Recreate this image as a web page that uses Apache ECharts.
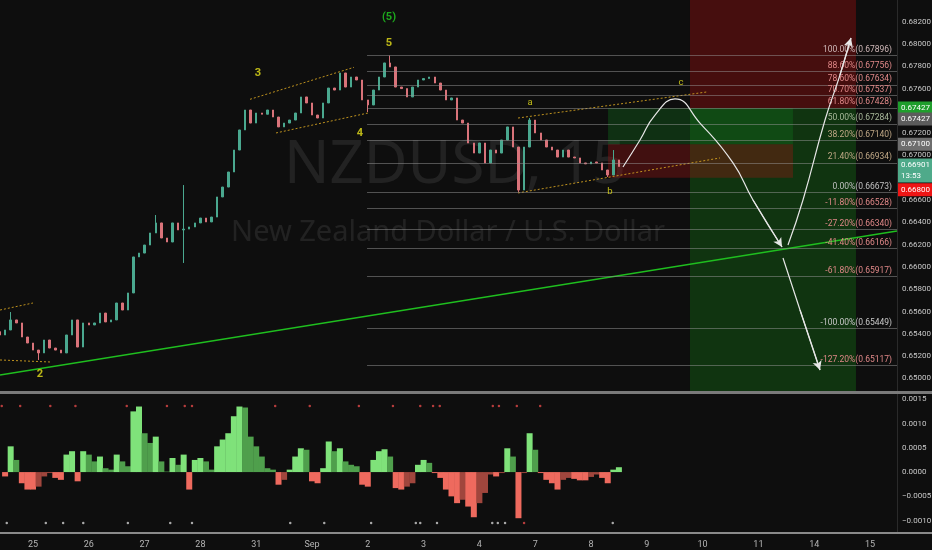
<!DOCTYPE html>
<html><head><meta charset="utf-8">
<script src="https://cdn.jsdelivr.net/npm/echarts@6/dist/echarts.min.js"></script>
<style>html,body{margin:0;padding:0;background:#0e0e0e;}#c{width:932px;height:550px;}</style>
</head><body><div id="c"></div>
<script>
// ---------- data ----------
const dayLabels = ['25','26','27','28','31','Sep','2','3','4','7','8','9','10','11','14','15'];
const dayTicks = [0,1,2,3,4,5,6,7,8,9,10,11,12,13,14,15];
const priceTicks = [0.682,0.680,0.678,0.676,0.672,0.670,0.666,0.664,0.662,0.660,0.658,0.656,0.654,0.652,0.650];
const oscTicks = [0.0015,0.001,0.0005,0,-0.0005,-0.001];

const barStart = -0.6, barStep = 0.1;
const firstOpen = 0.65420;
const closes = [
0.65390,0.65435,0.65525,0.65498,0.65372,0.65318,0.65255,0.65229,0.65345,0.65273,
0.65255,0.65229,0.65390,0.65525,0.65282,0.65498,0.65480,0.65498,0.65587,0.65507,
0.65525,0.65677,0.65614,0.65767,0.66090,0.66125,0.66197,0.66305,0.66395,0.66260,
0.66224,0.66395,0.66332,0.66340,0.66359,0.66395,0.66439,0.66404,0.66448,0.66628,
0.66717,0.66852,0.67049,0.67229,0.67408,0.67291,0.67381,0.67370,0.67408,0.67345,
0.67256,0.67291,0.67318,0.67381,0.67525,0.67471,0.67363,0.67336,0.67471,0.67605,
0.67587,0.67740,0.67614,0.67704,0.67677,0.67498,0.67453,0.67587,0.67704,0.67830,
0.67794,0.67614,0.67600,0.67525,0.67614,0.67677,0.67690,0.67704,0.67650,0.67587,
0.67498,0.67516,0.67318,0.67291,0.67112,0.67022,0.67112,0.66933,0.67049,0.67022,
0.67139,0.67256,0.67076,0.66690,0.67076,0.67318,0.67202,0.67139,0.67076,0.67049,
0.66986,0.67049,0.66986,0.66978,0.66933,0.66925,0.66942,0.66933,0.66870,0.66825,
0.66960,0.66901];
// [bar index, high, low] for visible wicks
const extremes = [[2,0.65596,null],[7,null,0.65166],[28,0.66466,null],[33,0.66735,0.66036],[66,null,0.67390],[70,0.67896,null],[93,null,0.66673],[95,0.67336,null],[109,null,0.66807],[110,0.67049,null]];

const osc = [
0,-0.00009,0.00053,0.00025,-0.00023,-0.00036,-0.00036,-0.0003,-0.00009,-0.00002,
-0.00012,-0.00016,0.00036,0.00043,-0.00019,0.00043,0.00036,0.00022,0.00032,0.00008,
0.00005,0.00036,0.00022,0.00012,0.00125,0.00135,0.0008,0.0006,0.00073,0.00022,
0.00001,0.00029,0.00015,0.00036,-0.00036,0.00025,0.00029,0.00022,0.00005,0.00053,
0.00067,0.0008,0.00115,0.00135,0.00133,0.00073,0.00053,0.00032,0.00008,0.00005,
-0.00026,-0.00016,0.00005,0.00032,0.00049,0.00046,-0.00019,-0.00023,0.00008,0.00063,
0.00043,0.00049,0.00022,0.00015,0.00012,-0.00026,-0.0003,0.00025,0.00043,0.00047,
0.00032,-0.00033,-0.00036,-0.0003,-0.00023,0.00015,0.00025,0.00019,-0.00002,-0.00012,
-0.00036,-0.0005,-0.00064,-0.00057,-0.00071,-0.00093,-0.00064,-0.00043,-0.00005,-0.00009,
-0.00002,0.00049,0.00032,-0.00095,-0.00002,0.0008,0.00046,-0.00002,-0.00016,-0.00023,
-0.00036,-0.00016,-0.00012,-0.00014,-0.00017,-0.00017,-0.0001,-0.00005,-0.00012,-0.00023,
0.00005,0.0001];
const dotTopX = [-0.56,-0.23,0.31,0.76,1.68,2.40,2.72,2.85,4.34,4.96,5.84,6.45,6.94,7.17,7.29,8.24,8.35,8.67,9.09];
const dotBottomX = [-0.47,0.23,0.54,0.90,1.70,2.46,2.85,4.61,5.22,6.06,6.86,6.94,7.24,8.23,8.33,8.46,10.39];
const dotBottomRedX = [8.80];
const dotTopLevel = 0.00136, dotBottomLevel = -0.00105;

const fibPct = [100,88.6,78.6,70.7,61.8,50,38.2,21.4,0,-11.8,-27.2,-41.4,-61.8,-100,-127.2];
const fibPrice = [0.67896,0.67756,0.67634,0.67537,0.67428,0.67284,0.67140,0.66934,0.66673,0.66528,0.66340,0.66166,0.65917,0.65449,0.65117];
const fibFrom = 5.986, fibTo = 15.484;

const trendLine = [[-0.591,0.65031],[15.484,0.66323]];
const channelSegs = [
 [[-0.591,0.65614],[0.0,0.65677]],
 [[-0.591,0.65166],[0.305,0.65148]],
 [[3.889,0.67504],[5.753,0.67791]],
 [[4.355,0.67202],[6.004,0.67381]],
 [[8.692,0.67336],[12.079,0.67570]],
 [[8.692,0.66664],[12.312,0.66978]]];
const curve1 = [[10.573,0.66897],[10.878,0.67139],[11.147,0.67363],[11.505,0.67507],[11.953,0.67291],[12.545,0.66933],[12.903,0.66601],[13.423,0.66179]];
const curve2 = [[13.530,0.66197],[13.799,0.66601],[14.194,0.67318],[14.462,0.67722],[14.659,0.68054]];
const curve3 = [[13.441,0.66081],[13.746,0.65614],[14.104,0.65076]];

const waveText = ['(5)','5','3','4','2','a','c','b'];
const waveX = [6.380,6.380,4.032,5.860,0.125,8.907,11.613,10.341];
const waveP = [0.68242,0.68009,0.67740,0.67202,0.65040,0.67471,0.67650,0.66673];

// position tools: [from, to, low, high]
const shortStop = [11.774,14.749,0.67427,0.68395];
const shortTarget = [11.774,14.749,0.64888,0.67427];
const longTarget = [10.305,13.620,0.67100,0.67427];
const longStop = [10.305,13.620,0.66800,0.67100];

const tagValues = [0.67427,0.67427,0.67100,0.66901,0.66800];
const countdown = '13:53';

// ---------- styles ----------
const FONT = 'Roboto';
const fibColors = ['#d0b8b8','#e08888','#e08888','#e08888','#e08888','#a8b89a','#c0a886','#c0a886','#c0c0c0','#e08888','#e08888','#e08888','#e08888','#c8c8c8','#e08888'];
const waveColors = ['#22d022','#e8e21a','#e8e21a','#e8e21a','#e8e21a','#e8e21a','#e8e21a','#e8e21a'];
const waveSizes = [11,11,11,11,11,9.5,9.5,9.5];
const tagStyles = [
 {bg:'#1f9e2c',c:'#fff',off:[0,0]},
 {bg:'#5c5c5c',c:'#fff',off:[0,11]},
 {bg:'#6e6e6e',c:'#fff',off:[0,0]},
 {bg:'#4faa8a',c:'#fff',off:[0,4]},
 {bg:'#ee1515',c:'#fff',off:[0,12]}];

// ---------- build ----------
const X0 = -0.5914, X1 = 15.484;
const Y0 = 0.648877, Y1 = 0.683946;
const O0 = -0.001234, O1 = 0.001608;

const candles = closes.map((c,k)=>{
  const o = k ? closes[k-1] : firstOpen;
  let hi = Math.max(o,c), lo = Math.min(o,c);
  extremes.forEach(e=>{ if(e[0]===k){ if(e[1]!=null) hi=Math.max(hi,e[1]); if(e[2]!=null) lo=Math.min(lo,e[2]); } });
  return [barStart+k*barStep, o, c, lo, hi];
});
const oscData = osc.map((v,k)=>{
  const prev = k ? osc[k-1] : 0;
  let col;
  if (v >= 0) col = v >= prev ? '#7fe27a' : '#4f9f4c';
  else col = v <= prev ? '#ee6a5e' : '#a0463d';
  return {value:[barStart+k*barStep, v], itemStyle:{color:col}};
});
const area = (a,col)=>[{xAxis:a[0], yAxis:a[2], itemStyle:{color:col}},{xAxis:a[1], yAxis:a[3]}];

const option = {
  backgroundColor:'#0e0e0e',
  animation:false,
  textStyle:{fontFamily:FONT},
  grid:[{left:0,right:35,top:0,height:391,outerBoundsMode:'none',containLabel:false},
        {left:0,right:35,top:394,height:138,outerBoundsMode:'none',containLabel:false}],
  xAxis:[
    {type:'value',gridIndex:0,min:X0,max:X1,show:false},
    {type:'value',gridIndex:1,min:X0,max:X1,splitLine:{show:false},axisTick:{show:false},
     axisLine:{show:false},
     axisLabel:{customValues:dayTicks,formatter:v=>dayLabels[Math.round(v)],color:'#b4b4b4',fontSize:9,margin:8}}
  ],
  yAxis:[
    {type:'value',gridIndex:0,position:'right',min:Y0,max:Y1,splitLine:{show:false},axisTick:{show:false},
     axisLine:{show:true,onZero:false,lineStyle:{color:'#2a2a2a'}},
     axisLabel:{customValues:priceTicks,formatter:v=>v.toFixed(5),color:'#c8c8c8',fontSize:8,margin:5}},
    {type:'value',gridIndex:1,position:'right',min:O0,max:O1,splitLine:{show:false},axisTick:{show:false},
     axisLine:{show:true,onZero:false,lineStyle:{color:'#2a2a2a'}},
     axisLabel:{customValues:oscTicks,formatter:v=>v.toFixed(4).replace('-','\u2212'),color:'#c8c8c8',fontSize:8,margin:5}}
  ],
  graphic:[
    {type:'text',x:455,y:166,z:-10,style:{text:'NZDUSD, 15',align:'center',verticalAlign:'middle',font:'60px "Noto Sans"',fill:'rgba(255,255,255,0.085)'}},
    {type:'text',x:448,y:233,z:-10,style:{text:'New Zealand Dollar / U.S. Dollar',align:'center',verticalAlign:'middle',font:'29px "Noto Sans"',fill:'rgba(255,255,255,0.085)'}},
    {type:'rect',z:50,shape:{x:0,y:391,width:932,height:3},style:{fill:'#7a7a7a'}},
    {type:'rect',z:50,shape:{x:0,y:532,width:932,height:2},style:{fill:'#8a8a8a'}}
  ],
  series:[
    {type:'line',xAxisIndex:0,yAxisIndex:0,data:[],z:1,silent:true,
     markArea:{silent:true,data:[
       area(shortStop,'rgba(125,14,14,0.5)'),
       area(shortTarget,'rgba(18,105,18,0.42)'),
       area(longTarget,'rgba(20,120,30,0.32)'),
       area(longStop,'rgba(170,20,20,0.33)')]}},
    {type:'line',xAxisIndex:0,yAxisIndex:0,data:[],z:2,silent:true,clip:false,
     markLine:{silent:true,symbol:'none',
       data:fibPct.map((p,i)=>[
         {coord:[fibFrom,fibPrice[i]],lineStyle:{color:'rgba(150,150,150,0.5)',width:1,type:'solid'},
          label:{show:true,position:'insideEndTop',distance:[5,1],formatter:p.toFixed(2)+'%('+fibPrice[i].toFixed(5)+')',color:fibColors[i],fontSize:8.5,fontFamily:FONT}},
         {coord:[fibTo,fibPrice[i]]}])}},
    {type:'line',xAxisIndex:0,yAxisIndex:0,data:trendLine,symbol:'none',z:3,
     lineStyle:{color:'#1fbe1f',width:1.5}},
    {type:'lines',coordinateSystem:'cartesian2d',xAxisIndex:0,yAxisIndex:0,z:3,
     data:channelSegs.map(s=>({coords:s})),
     lineStyle:{color:'#d0a020',width:1,type:[2,2],opacity:0.9}},
    {type:'candlestick',xAxisIndex:0,yAxisIndex:0,z:4,barWidth:2,
     encode:{x:0,y:[1,2,3,4]},data:candles,
     itemStyle:{color:'#4aa88f',color0:'#d9737a',borderColor:'#4aa88f',borderColor0:'#d9737a',borderWidth:1}},
    ...[curve1,curve2,curve3].map(cv=>({type:'line',xAxisIndex:0,yAxisIndex:0,z:5,data:cv,smooth:0.5,symbol:'none',
       lineStyle:{color:'#e6e6e6',width:1.2},
       markLine:{silent:true,symbol:['none','arrow'],symbolSize:[7,9],lineStyle:{color:'#e6e6e6',width:1.2,type:'solid'},label:{show:false},
         data:[[{coord:cv[cv.length-2]},{coord:cv[cv.length-1]}]]}})),
    {type:'scatter',xAxisIndex:0,yAxisIndex:0,z:6,symbolSize:0,
     data:waveText.map((t,i)=>({value:[waveX[i],waveP[i]],name:t,
       label:{show:true,position:'inside',formatter:t,color:waveColors[i],fontSize:waveSizes[i],fontWeight:waveSizes[i]>10?'bold':'normal'}}))},
    {type:'line',xAxisIndex:0,yAxisIndex:0,data:[],z:20,silent:true,clip:false,
     markLine:{silent:true,symbol:'none',
       data:tagValues.map((v,i)=>[
         {coord:[X1-0.02,v],lineStyle:{color:'rgba(0,0,0,0)',width:1,opacity:1},
          label:{show:true,opacity:1,position:'end',distance:1,offset:tagStyles[i].off,
           formatter:i===3?v.toFixed(5)+'\n'+countdown:v.toFixed(5),
           backgroundColor:tagStyles[i].bg,color:tagStyles[i].c,fontSize:8,lineHeight:11,padding:[1,2,1,3],fontFamily:FONT}},
         {coord:[X1,v]}])}},
    {type:'bar',xAxisIndex:1,yAxisIndex:1,data:oscData,barWidth:6,z:3},
    {type:'scatter',xAxisIndex:1,yAxisIndex:1,symbolSize:2.5,itemStyle:{color:'#e04848'},z:4,
     data:dotTopX.map(x=>[x,dotTopLevel])},
    {type:'scatter',xAxisIndex:1,yAxisIndex:1,symbolSize:2.5,itemStyle:{color:'#d0d0d0'},z:4,
     data:dotBottomX.map(x=>[x,dotBottomLevel])},
    {type:'scatter',xAxisIndex:1,yAxisIndex:1,symbolSize:2.5,itemStyle:{color:'#e04848'},z:4,
     data:dotBottomRedX.map(x=>[x,dotBottomLevel])}
  ]
};
const chart = echarts.init(document.getElementById('c'));
chart.setOption(option);
</script></body></html>
